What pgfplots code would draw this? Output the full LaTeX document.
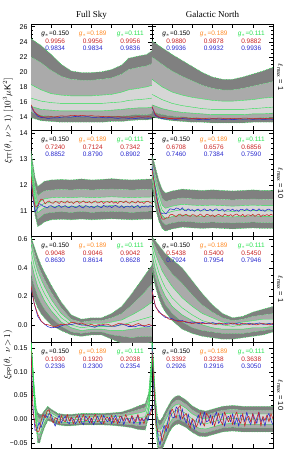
\documentclass[border=0pt]{standalone}
\usepackage{fontspec}
\setmainfont{Liberation Sans}
\newfontfamily\titlefont{Liberation Serif}
\usepackage{pgfplots}
\usepackage{pgfplotstable}
\pgfplotsset{compat=1.18}
\usepgfplotslibrary{groupplots,fillbetween}

\definecolor{dkg}{RGB}{128,128,128}
\definecolor{mdg}{RGB}{170,170,170}
\definecolor{ltg}{RGB}{214,214,214}
\definecolor{grn}{RGB}{40,225,80}
\definecolor{org}{RGB}{255,140,40}
\definecolor{rd}{RGB}{200,35,35}
\definecolor{bl}{RGB}{40,40,205}
\newcommand\fs{\fontsize{6.5}{7}\selectfont}

% ---------- band tables ----------
\pgfplotstableread[row sep=\\]{
x u3 u2 u1 m l1 l2 l3\\
0 24.4 22.0 18.3 16.5 15.4 14.6 13.9\\
15 23.5 21.2 17.6 16.1 15.0 14.2 13.5\\
30 22.3 20.2 17.1 15.9 14.9 14.1 13.4\\
45 21.0 19.4 16.9 15.8 14.8 14.0 13.3\\
60 20.1 19.0 16.8 15.8 14.8 14.0 13.3\\
75 19.9 18.9 16.8 15.8 14.8 14.0 13.3\\
90 19.9 18.9 16.8 15.8 14.8 14.0 13.3\\
105 20.0 19.0 16.9 15.8 14.8 14.0 13.3\\
120 20.3 19.2 17.0 15.9 14.9 14.1 13.4\\
135 20.9 19.7 17.3 16.0 15.0 14.1 13.4\\
145 21.8 20.3 17.6 16.2 15.1 14.2 13.5\\
160 22.1 20.6 17.8 16.3 15.2 14.3 13.6\\
172 22.3 20.8 18.0 16.4 15.2 14.3 13.6\\
180 22.8 21.1 18.2 16.5 15.3 14.4 13.7\\
}\bOneL
\pgfplotstableread[row sep=\\]{
x u3 u2 u1 m l1 l2 l3\\
0 24.1 22.0 19.0 17.0 15.6 14.7 14.0\\
15 23.2 21.0 18.0 16.3 15.1 14.3 13.7\\
30 22.3 20.1 17.3 15.8 14.8 14.1 13.5\\
45 21.5 19.4 16.9 15.5 14.6 14.0 13.4\\
60 20.7 18.8 16.6 15.3 14.5 13.9 13.3\\
75 19.9 18.2 16.4 15.1 14.4 13.8 13.3\\
90 19.3 17.8 16.2 15.0 14.3 13.8 13.2\\
105 19.0 17.6 16.1 15.0 14.3 13.8 13.2\\
120 19.0 17.6 16.1 15.0 14.3 13.8 13.2\\
135 19.3 17.8 16.2 15.0 14.3 13.8 13.2\\
150 19.7 18.1 16.3 15.1 14.4 13.8 13.3\\
165 20.1 18.4 16.5 15.2 14.4 13.9 13.3\\
180 20.6 18.7 16.6 15.3 14.5 13.9 13.3\\
}\bOneR
\pgfplotstableread[row sep=\\]{
x u3 u2 u1 m l1 l2 l3\\
0 13.3 13.1 12.95 12.8 12.65 12.45 12.25\\
3 12.8 12.55 12.35 12.2 12.05 11.8 11.55\\
6 12.3 12.0 11.75 11.6 11.42 11.15 10.85\\
10 11.95 11.6 11.3 11.13 10.95 10.7 10.42\\
15 12.05 11.7 11.4 11.23 11.05 10.8 10.5\\
20 12.15 11.78 11.48 11.31 11.14 10.9 10.6\\
30 12.2 11.82 11.52 11.35 11.18 10.96 10.68\\
45 12.22 11.84 11.54 11.37 11.2 10.98 10.7\\
60 12.2 11.82 11.52 11.35 11.18 10.96 10.68\\
75 12.24 11.85 11.55 11.38 11.21 10.99 10.71\\
90 12.2 11.82 11.52 11.35 11.18 10.96 10.68\\
105 12.22 11.84 11.54 11.37 11.2 10.98 10.7\\
120 12.25 11.86 11.56 11.39 11.22 11.0 10.72\\
135 12.22 11.84 11.54 11.37 11.2 10.98 10.7\\
150 12.2 11.82 11.52 11.35 11.18 10.96 10.68\\
165 12.22 11.84 11.54 11.37 11.2 10.98 10.7\\
180 12.24 11.85 11.55 11.38 11.21 10.99 10.71\\
}\bTwoL
\pgfplotstableread[row sep=\\]{
x u3 u2 u1 m l1 l2 l3\\
0 13.1 12.85 12.65 12.5 12.35 12.15 11.95\\
3 12.9 12.6 12.4 12.2 12.0 11.75 11.5\\
6 12.6 12.3 12.05 11.85 11.65 11.35 11.05\\
10 12.2 11.9 11.65 11.45 11.25 10.95 10.65\\
15 11.85 11.5 11.25 11.05 10.85 10.6 10.35\\
20 11.7 11.38 11.12 10.92 10.72 10.48 10.25\\
30 11.78 11.45 11.2 11.0 10.8 10.56 10.33\\
45 11.85 11.52 11.27 11.07 10.86 10.62 10.4\\
60 11.82 11.48 11.24 11.04 10.83 10.59 10.37\\
75 11.8 11.46 11.22 11.02 10.81 10.57 10.35\\
90 11.82 11.48 11.24 11.04 10.83 10.59 10.37\\
105 11.8 11.46 11.22 11.02 10.81 10.57 10.35\\
120 11.78 11.44 11.2 11.0 10.79 10.55 10.33\\
135 11.8 11.46 11.22 11.02 10.81 10.57 10.35\\
150 11.82 11.48 11.24 11.04 10.83 10.59 10.37\\
165 11.8 11.46 11.22 11.02 10.81 10.57 10.35\\
180 11.8 11.46 11.22 11.02 10.81 10.57 10.35\\
}\bTwoR
\pgfplotstableread[row sep=\\]{
x u3 u2 u1 m l1 l2 l3\\
0 .62 .60 .57 .52 .45 .35 .25\\
5 .55 .51 .46 .41 .35 .27 .18\\
10 .48 .43 .38 .33 .27 .20 .12\\
15 .42 .37 .32 .27 .22 .15 .08\\
20 .37 .32 .27 .22 .17 .11 .05\\
30 .28 .23 .18 .14 .10 .05 .00\\
45 .16 .12 .08 .05 .02 -.01 -.04\\
60 .07 .04 .02 .00 -.02 -.05 -.07\\
75 .04 .02 .00 -.02 -.04 -.06 -.08\\
90 .05 .03 .01 -.01 -.03 -.05 -.07\\
105 .05 .03 .01 -.01 -.03 -.05 -.07\\
120 .08 .05 .02 -.01 -.04 -.07 -.10\\
135 .13 .08 .035 .00 -.04 -.08 -.13\\
150 .22 .14 .07 .02 -.03 -.09 -.15\\
165 .32 .21 .11 .04 -.02 -.08 -.14\\
180 .42 .29 .16 .06 -.02 -.08 -.12\\
}\bThreeL
\pgfplotstableread[row sep=\\]{
x u3 u2 u1 m l1 l2 l3\\
0 .62 .60 .58 .55 .50 .44 .38\\
5 .59 .55 .50 .45 .39 .33 .27\\
10 .56 .50 .44 .37 .31 .25 .19\\
15 .53 .46 .38 .31 .25 .19 .13\\
20 .50 .42 .34 .26 .20 .14 .09\\
30 .46 .36 .27 .19 .13 .08 .03\\
45 .40 .29 .19 .12 .07 .02 -.03\\
60 .31 .21 .13 .07 .03 -.02 -.06\\
75 .22 .14 .08 .03 .00 -.04 -.08\\
90 .14 .09 .05 .01 -.02 -.05 -.09\\
105 .08 .05 .02 .00 -.03 -.06 -.10\\
120 .05 .03 .01 -.01 -.03 -.06 -.10\\
135 .06 .04 .02 .00 -.03 -.06 -.09\\
150 .09 .06 .03 .01 -.02 -.05 -.08\\
165 .11 .07 .04 .01 -.02 -.04 -.07\\
180 .13 .08 .04 .01 -.01 -.03 -.05\\
}\bThreeR
\pgfplotstableread[row sep=\\]{
x u3 u2 u1 m l1 l2 l3\\
0 .165 .1635 .162 .16 .158 .1565 .155\\
2 .13 .127 .124 .12 .116 .113 .11\\
4 .085 .0805 .076 .07 .064 .0595 .055\\
6 .05 .044 .038 .03 .022 .016 .01\\
8 .022 .0154 .0088 0 -.0088 -.0154 -.022\\
10 .014 .0044 -.0052 -.018 -.0308 -.0404 -.05\\
13 .01 .001 -.008 -.02 -.032 -.041 -.05\\
16 .01 .0034 -.0032 -.012 -.0208 -.0274 -.034\\
20 .018 .0126 .0072 0 -.0072 -.0126 -.018\\
25 .027 .0225 .018 .012 .006 .0015 -.003\\
30 .021 .0171 .0132 .008 .0028 -.0011 -.005\\
40 .012 .0084 .0048 0 -.0048 -.0084 -.012\\
50 .010 .0064 .0028 -.002 -.0068 -.0104 -.014\\
60 .010 .0064 .0028 -.002 -.0068 -.0104 -.014\\
75 .012 .0084 .0048 0 -.0048 -.0084 -.012\\
90 .012 .0084 .0048 0 -.0048 -.0084 -.012\\
105 .012 .0084 .0048 0 -.0048 -.0084 -.012\\
120 .013 .0091 .0052 0 -.0052 -.0091 -.013\\
135 .015 .0105 .006 0 -.006 -.0105 -.015\\
150 .022 .016 .01 .002 -.006 -.012 -.018\\
160 .028 .0205 .013 .003 -.007 -.0145 -.022\\
170 .033 .0246 .0162 .005 -.0062 -.0146 -.023\\
175 .055 .0475 .04 .03 .02 .0125 .005\\
180 .14 .134 .128 .12 .112 .106 .10\\
}\bFourL
\pgfplotstableread[row sep=\\]{
x u3 u2 u1 m l1 l2 l3\\
0 .165 .1635 .162 .16 .158 .1565 .155\\
2 .125 .1205 .116 .11 .104 .0995 .095\\
4 .075 .0675 .06 .05 .04 .0325 .025\\
6 .035 .026 .017 .005 -.007 -.016 -.025\\
8 .007 -.0026 -.0122 -.025 -.0378 -.0474 -.057\\
10 -.002 -.0119 -.0218 -.035 -.0482 -.0581 -.068\\
13 -.002 -.0119 -.0218 -.035 -.0482 -.0581 -.068\\
16 .005 -.0049 -.0148 -.028 -.0412 -.0511 -.061\\
20 .017 .0074 -.0022 -.015 -.0278 -.0374 -.047\\
25 .03 .021 .012 0 -.012 -.021 -.03\\
30 .042 .033 .024 .012 0 -.009 -.018\\
35 .048 .039 .03 .018 .006 -.003 -.012\\
40 .05 .041 .032 .02 .008 -.001 -.01\\
50 .041 .0323 .0236 .012 .0004 -.0083 -.017\\
60 .028 .0196 .0112 0 -.0112 -.0196 -.028\\
70 .02 .0116 .0032 -.008 -.0192 -.0276 -.036\\
80 .017 .0089 .0008 -.01 -.0208 -.0289 -.037\\
90 .021 .0129 .0048 -.006 -.0168 -.0249 -.033\\
105 .027 .0189 .0108 0 -.0108 -.0189 -.027\\
120 .029 .0209 .0128 .002 -.0088 -.0169 -.025\\
135 .027 .0189 .0108 0 -.0108 -.0189 -.027\\
150 .027 .0189 .0108 0 -.0108 -.0189 -.027\\
165 .027 .0189 .0108 0 -.0108 -.0189 -.027\\
180 .027 .0189 .0108 0 -.0108 -.0189 -.027\\
}\bFourR

% ---------- measured curves ----------
\pgfplotstableread[row sep=\\]{
x r b\\
0 15.62 15.43\\ 5 14.68 14.59\\ 10 14.29 14.10\\ 15 14.04 13.93\\ 20 13.96 13.90\\
25 14.00 13.80\\ 30 14.03 13.84\\ 35 14.00 13.89\\ 40 14.07 13.87\\ 45 14.15 13.97\\
50 14.10 14.00\\ 55 14.12 13.99\\ 60 14.20 13.98\\ 65 14.19 14.05\\ 70 14.14 14.07\\
75 14.21 14.00\\ 80 14.16 14.02\\ 85 14.13 14.04\\ 90 14.18 13.96\\ 95 14.10 13.93\\
100 14.12 13.98\\ 105 14.04 13.94\\ 110 14.07 13.88\\ 115 14.07 13.89\\ 120 13.99 13.92\\
125 14.00 13.84\\ 130 14.04 13.81\\ 135 13.98 13.88\\ 140 13.98 13.86\\ 145 14.01 13.81\\
150 13.94 13.85\\ 155 14.00 13.79\\ 160 14.04 13.84\\ 165 13.97 13.89\\ 170 14.00 13.84\\
175 14.03 13.82\\ 180 13.96 13.89\\
}\nOneL
\pgfplotstableread[row sep=\\]{
x r b\\
0 15.38 15.32\\ 5 14.34 14.18\\ 10 14.00 13.94\\ 15 13.93 13.79\\ 20 13.90 13.71\\
25 13.79 13.74\\ 30 13.79 13.73\\ 35 13.81 13.67\\ 40 13.78 13.73\\ 45 13.86 13.79\\
50 13.88 13.73\\ 55 13.83 13.71\\ 60 13.78 13.75\\ 65 13.82 13.71\\ 70 13.82 13.64\\
75 13.75 13.71\\ 80 13.79 13.68\\ 85 13.84 13.68\\ 90 13.80 13.77\\ 95 13.80 13.72\\
100 13.85 13.74\\ 105 13.81 13.66\\ 110 13.75 13.69\\ 115 13.77 13.70\\ 120 13.82 13.64\\
125 13.77 13.68\\ 130 13.76 13.74\\ 135 13.84 13.69\\ 140 13.84 13.71\\ 145 13.79 13.74\\
150 13.82 13.67\\ 155 13.75 13.71\\ 160 13.78 13.73\\ 165 13.82 13.66\\ 170 13.78 13.69\\
175 13.77 13.73\\ 180 13.84 13.66\\
}\nOneR
\pgfplotstableread[row sep=\\]{
x r b\\
0 12.32 12.18\\ 3 11.57 11.49\\ 6 11.20 10.99\\ 9 11.19 11.08\\ 12 11.35 11.30\\
15 11.47 11.26\\ 18 11.44 11.20\\ 21 11.29 11.18\\ 24 11.36 11.13\\ 27 11.40 11.20\\
30 11.33 11.22\\ 33 11.31 11.17\\ 36 11.38 11.13\\ 39 11.36 11.20\\ 42 11.30 11.23\\
45 11.39 11.15\\ 48 11.34 11.19\\ 51 11.32 11.22\\ 54 11.40 11.16\\ 57 11.33 11.14\\
60 11.37 11.21\\ 63 11.30 11.19\\ 66 11.36 11.14\\ 69 11.39 11.17\\ 72 11.31 11.23\\
75 11.35 11.16\\ 78 11.40 11.13\\ 81 11.33 11.22\\ 84 11.34 11.20\\ 87 11.38 11.15\\
90 11.31 11.20\\ 93 11.37 11.13\\ 96 11.40 11.18\\ 99 11.32 11.22\\ 102 11.34 11.17\\
105 11.39 11.14\\ 108 11.30 11.23\\ 111 11.36 11.19\\ 114 11.37 11.16\\ 117 11.33 11.21\\
120 11.39 11.14\\ 123 11.31 11.20\\ 126 11.36 11.23\\ 129 11.30 11.17\\ 132 11.38 11.15\\
135 11.37 11.22\\ 138 11.33 11.13\\ 141 11.40 11.19\\ 144 11.34 11.20\\ 147 11.31 11.16\\
150 11.39 11.22\\ 153 11.35 11.14\\ 156 11.32 11.19\\ 159 11.40 11.23\\ 162 11.33 11.13\\
165 11.36 11.20\\ 168 11.30 11.17\\ 171 11.37 11.21\\ 174 11.39 11.16\\ 177 11.34 11.22\\
180 11.31 11.18\\
}\nTwoL
\pgfplotstableread[row sep=\\]{
x r b\\
0 12.58 12.72\\ 3 12.14 12.17\\ 6 11.59 11.75\\ 9 11.23 11.29\\ 12 10.95 10.95\\
15 10.71 10.92\\ 18 10.70 10.94\\ 21 10.76 10.91\\ 24 10.75 11.01\\ 27 10.87 11.10\\
30 10.89 11.08\\ 33 10.84 11.06\\ 36 10.80 11.13\\ 39 10.87 11.11\\ 42 10.90 11.05\\
45 10.82 11.14\\ 48 10.86 11.04\\ 51 10.89 11.02\\ 54 10.83 11.10\\ 57 10.81 11.03\\
60 10.88 11.07\\ 63 10.86 11.00\\ 66 10.81 11.06\\ 69 10.84 11.09\\ 72 10.90 11.01\\
75 10.83 11.05\\ 78 10.80 11.10\\ 81 10.89 11.03\\ 84 10.87 11.04\\ 87 10.82 11.08\\
90 10.87 11.01\\ 93 10.80 11.07\\ 96 10.85 11.10\\ 99 10.89 11.02\\ 102 10.84 11.04\\
105 10.81 11.09\\ 108 10.90 11.00\\ 111 10.86 11.06\\ 114 10.83 11.07\\ 117 10.88 11.03\\
120 10.81 11.09\\ 123 10.87 11.01\\ 126 10.90 11.06\\ 129 10.84 11.00\\ 132 10.82 11.08\\
135 10.89 11.07\\ 138 10.80 11.03\\ 141 10.86 11.10\\ 144 10.87 11.04\\ 147 10.83 11.01\\
150 10.89 11.09\\ 153 10.81 11.05\\ 156 10.86 11.02\\ 159 10.90 11.10\\ 162 10.80 11.03\\
165 10.87 11.06\\ 168 10.84 11.00\\ 171 10.88 11.07\\ 174 10.83 11.09\\ 177 10.89 11.04\\
180 10.85 11.01\\
}\nTwoR
\pgfplotstableread[row sep=\\]{
x r b\\
0 0.272 0.260\\ 5 0.147 0.146\\ 10 0.075 0.061\\ 15 0.029 0.025\\ 20 0.005 0.007\\
25 0.002 -0.012\\ 30 -0.006 -0.020\\ 35 -0.014 -0.017\\ 40 -0.004 -0.018\\ 45 0.005 -0.006\\
50 0.003 0.001\\ 55 0.006 0.001\\ 60 0.018 0.002\\ 65 0.016 0.009\\ 70 0.005 0.007\\
75 0.014 -0.001\\ 80 0.004 -0.002\\ 85 -0.003 -0.004\\ 90 0.005 -0.010\\ 95 -0.007 -0.017\\
100 0.002 -0.005\\ 105 0.000 -0.002\\ 110 0.006 -0.007\\ 115 0.004 -0.009\\ 120 -0.009 -0.008\\
125 0.000 -0.010\\ 130 0.010 -0.003\\ 135 0.008 0.006\\ 140 0.004 -0.001\\ 145 0.003 -0.011\\
150 -0.009 -0.011\\ 155 0.002 -0.013\\ 160 0.010 -0.003\\ 165 -0.003 -0.004\\ 170 -0.006 -0.014\\
175 0.004 -0.012\\ 180 -0.005 -0.003\\
}\nThreeL
\pgfplotstableread[row sep=\\]{
x r b\\
0 0.237 0.244\\ 5 0.135 0.129\\ 10 0.089 0.098\\ 15 0.074 0.071\\ 20 0.061 0.051\\
25 0.041 0.050\\ 30 0.036 0.044\\ 35 0.033 0.029\\ 40 0.021 0.030\\ 45 0.026 0.031\\
50 0.024 0.019\\ 55 0.016 0.015\\ 60 0.009 0.021\\ 65 0.015 0.016\\ 70 0.018 0.008\\
75 0.008 0.018\\ 80 0.011 0.011\\ 85 0.015 0.008\\ 90 0.006 0.017\\ 95 0.004 0.009\\
100 0.012 0.013\\ 105 0.009 0.004\\ 110 0.004 0.011\\ 115 0.006 0.013\\ 120 0.013 0.005\\
125 0.005 0.009\\ 130 0.001 0.015\\ 135 0.010 0.005\\ 140 0.008 0.007\\ 145 0.003 0.012\\
150 0.009 0.003\\ 155 0.000 0.010\\ 160 0.006 0.014\\ 165 0.010 0.004\\ 170 0.004 0.006\\
175 0.001 0.011\\ 180 0.011 0.001\\
}\nThreeR
\pgfplotstableread[row sep=\\]{
x r b\\
0 .144 .134\\ 3 .014 .026\\ 6 -.010 -.024\\ 9 -.027 -.021\\ 12 -.025 -.007\\
15 -.004 -.018\\ 18 .010 -.004\\ 21 .002 .010\\ 24 .017 .003\\ 27 .020 .012\\
30 .000 .010\\ 33 -.008 -.004\\ 36 .003 -.015\\ 39 .000 .000\\ 42 -.010 .008\\
45 .008 -.008\\ 48 -.002 .000\\ 51 -.006 .006\\ 54 .010 -.006\\ 57 -.004 -.010\\
60 .004 .004\\ 63 -.010 .000\\ 66 .002 -.010\\ 69 .008 -.004\\ 72 -.008 .008\\
75 .000 -.006\\ 78 .010 -.012\\ 81 -.004 .006\\ 84 -.002 .002\\ 87 .006 -.008\\
90 -.008 .002\\ 93 .004 -.012\\ 96 .010 -.002\\ 99 -.006 .006\\ 102 -.002 -.004\\
105 .008 -.010\\ 108 -.010 .008\\ 111 .002 .000\\ 114 .004 -.006\\ 117 -.004 .004\\
120 .008 -.010\\ 123 -.008 .002\\ 126 .002 .008\\ 129 -.010 -.004\\ 132 .006 -.008\\
135 .004 .006\\ 138 -.004 -.012\\ 141 .010 .000\\ 144 -.002 .002\\ 147 -.008 -.006\\
150 .008 .006\\ 153 .000 -.010\\ 156 -.006 .000\\ 159 .010 .008\\ 162 -.004 -.012\\
165 .002 .002\\ 168 -.010 -.004\\ 171 .004 .004\\ 174 .011 -.003\\ 177 .008 .016\\
180 .022 .028\\
}\nFourL
\pgfplotstableread[row sep=\\]{
x r b\\
0 .144 .156\\ 3 .072 .051\\ 6 -.013 .005\\ 9 -.026 -.038\\ 12 -.025 -.055\\
15 -.047 -.029\\ 18 -.031 -.013\\ 21 -.012 -.027\\ 24 -.020 -.002\\ 27 .010 .019\\
30 .022 .004\\ 33 .012 .003\\ 36 .002 .026\\ 39 .023 .020\\ 42 .029 -.001\\
45 .001 .022\\ 48 .008 .002\\ 51 .012 -.009\\ 54 -.010 .011\\ 57 -.019 -.013\\
60 .001 -.002\\ 63 -.004 -.022\\ 66 -.017 -.002\\ 69 -.006 .009\\ 72 .014 -.013\\
75 -.006 .000\\ 78 -.015 .015\\ 81 .012 -.006\\ 84 .006 -.003\\ 87 -.009 .009\\
90 .006 -.012\\ 93 -.015 .006\\ 96 .000 .015\\ 99 .012 -.009\\ 102 -.003 -.003\\
105 -.012 .012\\ 108 .015 -.015\\ 111 .003 .003\\ 114 -.006 .006\\ 117 .009 -.006\\
120 -.012 .012\\ 123 .006 -.012\\ 126 .015 .003\\ 129 -.003 -.015\\ 132 -.009 .009\\
135 .012 .006\\ 138 -.015 -.006\\ 141 .003 .015\\ 144 .006 -.003\\ 147 -.006 -.012\\
150 .012 .012\\ 153 -.012 .000\\ 156 .003 -.009\\ 159 .015 .015\\ 162 -.015 -.006\\
165 .006 .003\\ 168 -.003 -.015\\ 171 .009 .006\\ 174 -.006 .012\\ 177 .012 -.003\\
180 .000 -.012\\
}\nFourR

\newcommand\bands[1]{%
 \addplot[draw=none,name path=U3] table[x=x,y=u3]{#1};
 \addplot[draw=none,name path=U2] table[x=x,y=u2]{#1};
 \addplot[draw=none,name path=U1] table[x=x,y=u1]{#1};
 \addplot[draw=none,name path=L1] table[x=x,y=l1]{#1};
 \addplot[draw=none,name path=L2] table[x=x,y=l2]{#1};
 \addplot[draw=none,name path=L3] table[x=x,y=l3]{#1};
 \addplot[fill=dkg,draw=none] fill between[of=U3 and U2];
 \addplot[fill=mdg,draw=none] fill between[of=U2 and U1];
 \addplot[fill=ltg,draw=none] fill between[of=U1 and L1];
 \addplot[fill=mdg,draw=none] fill between[of=L1 and L2];
 \addplot[fill=dkg,draw=none] fill between[of=L2 and L3];
 \addplot[grn,densely dotted,line width=0.6pt] table[x=x,y=u3]{#1};
 \addplot[grn,densely dotted,line width=0.5pt] table[x=x,y=u2]{#1};
 \addplot[grn,line width=0.4pt] table[x=x,y=u1]{#1};
 \addplot[grn,line width=0.4pt] table[x=x,y=m]{#1};
 \addplot[grn,line width=0.4pt] table[x=x,y=l1]{#1};
 \addplot[grn,densely dotted,line width=0.5pt] table[x=x,y=l2]{#1};
 \addplot[grn,densely dotted,line width=0.6pt] table[x=x,y=l3]{#1};
}
\newcommand\meas[1]{%
 \addplot[bl,line width=0.55pt,line join=round] table[x=x,y=b]{#1};
 \addplot[rd,line width=0.55pt,line join=round] table[x=x,y=r]{#1};
}
\newcommand\annot[6]{%
 \node[font=\fs,text=black] at (axis description cs:0.2,0.905) {\textit{g}$_*$=0.150};
 \node[font=\fs,text=org] at (axis description cs:0.51,0.905) {\textit{g}$_*$=0.189};
 \node[font=\fs,text=grn] at (axis description cs:0.82,0.905) {\textit{g}$_*$=0.111};
 \node[font=\fs,text=rd] at (axis description cs:0.2,0.84) {#1};
 \node[font=\fs,text=rd] at (axis description cs:0.51,0.84) {#2};
 \node[font=\fs,text=rd] at (axis description cs:0.82,0.84) {#3};
 \node[font=\fs,text=bl] at (axis description cs:0.2,0.775) {#4};
 \node[font=\fs,text=bl] at (axis description cs:0.51,0.775) {#5};
 \node[font=\fs,text=bl] at (axis description cs:0.82,0.775) {#6};
}

\begin{document}
\begin{tikzpicture}
\begin{groupplot}[
  group style={group name=G, group size=2 by 4, horizontal sep=0pt, vertical sep=0pt},
  width=121bp, height=106bp, scale only axis,
  xmin=0, xmax=180, xtick={0,30,...,180}, xticklabels={},
  tick label style={font=\fontsize{7}{8}\selectfont},
  major tick length=4bp, minor tick length=2bp,
  axis line style={line width=0.5pt},
  every tick/.style={black, line width=0.4pt},
  clip=true,
]
% ---- row 1
\nextgroupplot[ymin=12.26, ymax=26.36, ytick={14,16,...,26}, yticklabels={14,16,18,20,22,24,26}, minor y tick num=3]
\bands{\bOneL}\meas{\nOneL}
\annot{0.9956}{0.9956}{0.9956}{0.9834}{0.9834}{0.9836}
\nextgroupplot[ymin=12.26, ymax=26.36, ytick={14,16,...,26}, yticklabels={}, minor y tick num=3]
\bands{\bOneR}\meas{\nOneR}
\annot{0.9880}{0.9878}{0.9882}{0.9936}{0.9932}{0.9936}
% ---- row 2
\nextgroupplot[ymin=10.06, ymax=14.11, ytick={11,12,13,14}, yticklabels={11,12,13,14}, minor y tick num=4]
\bands{\bTwoL}\meas{\nTwoL}
\annot{0.7240}{0.7124}{0.7342}{0.8852}{0.8790}{0.8902}
\nextgroupplot[ymin=10.06, ymax=14.11, ytick={11,12,13,14}, yticklabels={}, minor y tick num=4]
\bands{\bTwoR}\meas{\nTwoR}
\annot{0.6708}{0.6576}{0.6856}{0.7460}{0.7384}{0.7590}
% ---- row 3
\nextgroupplot[ymin=-0.12, ymax=0.625, ytick={0,0.2,0.4,0.6}, yticklabels={0.0,0.2,0.4,0.6}, minor y tick num=3]
\bands{\bThreeL}\meas{\nThreeL}
\annot{0.9048}{0.9046}{0.9042}{0.8630}{0.8614}{0.8628}
\nextgroupplot[ymin=-0.12, ymax=0.625, ytick={0,0.2,0.4,0.6}, yticklabels={}, minor y tick num=3]
\bands{\bThreeR}\meas{\nThreeR}
\annot{0.5438}{0.5400}{0.5450}{0.7924}{0.7954}{0.7946}
% ---- row 4
\nextgroupplot[ymin=-0.061, ymax=0.163, ytick={-0.05,0,0.05,0.10,0.15}, yticklabels={−0.05,0.00,0.05,0.10,0.15}, minor y tick num=4]
\bands{\bFourL}\meas{\nFourL}
\annot{0.1930}{0.1920}{0.2038}{0.2336}{0.2300}{0.2354}
\nextgroupplot[ymin=-0.061, ymax=0.163, ytick={-0.05,0,0.05,0.10,0.15}, yticklabels={}, minor y tick num=4]
\bands{\bFourR}\meas{\nFourR}
\annot{0.3392}{0.3238}{0.3638}{0.2926}{0.2916}{0.3050}
\end{groupplot}
% titles
\node[anchor=base, font=\titlefont\fontsize{9}{10}\selectfont] at ([yshift=6bp]G c1r1.north) {Full Sky};
\node[anchor=base, font=\titlefont\fontsize{9}{10}\selectfont] at ([yshift=6bp]G c2r1.north) {Galactic North};
% right labels
\foreach \r/\l in {1/1,2/10,3/1,4/10}{
  \node[rotate=-90, anchor=south, font=\fontsize{7.5}{8}\selectfont, inner sep=1bp] at ([xshift=3bp]G c2r\r.east) {$\ell_{\rm max}$ = \l};
}
% y labels
\node[rotate=90, font=\fontsize{9}{10}\selectfont] at ([xshift=-23bp,yshift=9bp]G c1r1.south west) {$\xi_{\rm TT}(\theta,\ \nu\!>\!1)\ [10^3\mu{\rm K}^2]$};
\node[rotate=90, font=\fontsize{9}{10}\selectfont] at ([xshift=-23bp,yshift=-13bp]G c1r3.south west) {$\xi_{\rm PP}(\theta,\ \nu\!>\!1)$};
\pgfresetboundingbox
\path[use as bounding box] (G c1r4.south west) ++(-31bp,-1bp) rectangle ++(287bp,449bp);
\end{tikzpicture}
\end{document}
